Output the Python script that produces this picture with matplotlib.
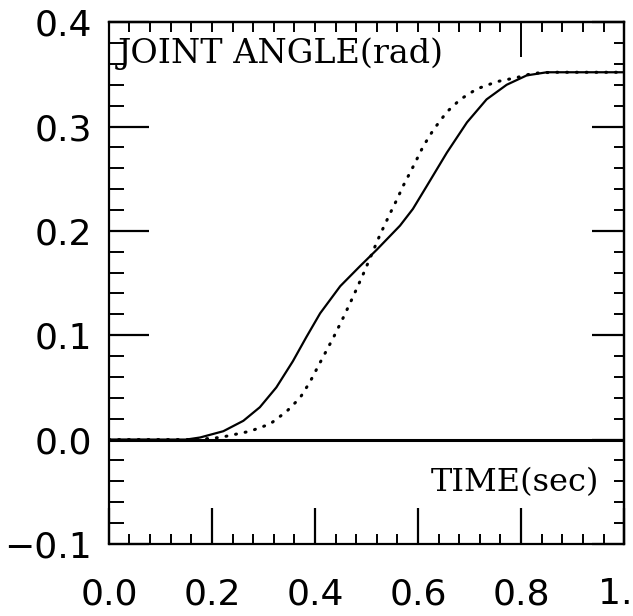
import numpy as np
from matplotlib import pyplot as plt
from matplotlib import transforms
from matplotlib.ticker import MultipleLocator, FixedLocator

# time (sec) and joint angle (rad)
t_solid = [0.0, 0.15, 0.177, 0.222, 0.261, 0.293, 0.325, 0.357, 0.383, 0.410, 0.449,
           0.487, 0.520, 0.565, 0.590, 0.617, 0.656, 0.695, 0.733, 0.772, 0.811,
           0.85, 0.90, 1.0]
q_solid = [0.0, 0.0, 0.002, 0.008, 0.018, 0.031, 0.050, 0.075, 0.098, 0.121, 0.147,
           0.166, 0.182, 0.205, 0.221, 0.243, 0.275, 0.304, 0.326, 0.340, 0.349,
           0.352, 0.352, 0.352]

t_dot = [0.0, 0.17, 0.216, 0.274, 0.313, 0.345, 0.371, 0.390, 0.408, 0.436, 0.455,
         0.474, 0.494, 0.507, 0.526, 0.546, 0.559, 0.571, 0.591, 0.610, 0.630,
         0.656, 0.682, 0.714, 0.753, 0.792, 0.823, 0.86, 1.0]
q_dot = [0.0, 0.0, 0.002, 0.008, 0.015, 0.027, 0.040, 0.055, 0.072, 0.098, 0.117,
         0.137, 0.159, 0.174, 0.196, 0.217, 0.230, 0.243, 0.262, 0.281, 0.297,
         0.314, 0.326, 0.336, 0.343, 0.347, 0.351, 0.352, 0.352]

x_ticks = [0.0, 0.2, 0.4, 0.6, 0.8, 1.0]
x_labels = ['0.0', '0.2', '0.4', '0.6', '0.8', '1.']
y_ticks = [-0.1, 0.0, 0.1, 0.2, 0.3, 0.4]
y_labels = ['\u22120.1', '0.0', '0.1', '0.2', '0.3', '0.4']

fig = plt.figure(figsize=(6.33, 6.16), dpi=100)
ax = fig.add_axes([0.172, 0.117, 0.814, 0.847])

ax.plot(t_solid, q_solid, color='black', lw=1.6, solid_joinstyle='round')
ax.plot(t_dot, q_dot, color='black', lw=2.2, linestyle=(0, (0.3, 2.9)),
        dash_capstyle='round')
ax.axhline(0, color='black', lw=2.2)

ax.set_xlim(0, 1)
ax.set_ylim(-0.1, 0.4)
for s in ax.spines.values():
    s.set_linewidth(1.6)

ax.set_xticks(x_ticks)
ax.set_xticklabels(x_labels)
ax.set_yticks(y_ticks)
ax.set_yticklabels(y_labels)
ax.xaxis.set_minor_locator(MultipleLocator(0.04))
ax.yaxis.set_minor_locator(MultipleLocator(0.02))
ax.tick_params(axis='both', which='major', direction='in', labelsize=26, width=1.6)
ax.tick_params(axis='both', which='minor', direction='in', width=1.4)
ax.tick_params(axis='x', which='major', length=26, pad=24)
ax.tick_params(axis='x', which='minor', length=7.5)
ax.tick_params(axis='y', which='major', length=29, pad=12)
ax.tick_params(axis='y', which='minor', length=10.5)

# last x label is clipped to "1." in the original, keep it inside the figure
last = ax.get_xticklabels()[-1]
last.set_ha('right')
last.set_transform(last.get_transform() +
                   transforms.ScaledTranslation(6 / 72, 0, fig.dpi_scale_trans))

# top: only minor ticks plus one long one at 0.8
top = ax.secondary_xaxis('top')
top.xaxis.set_major_locator(FixedLocator([0.8]))
top.xaxis.set_minor_locator(MultipleLocator(0.04))
top.tick_params(which='major', direction='in', length=25, width=1.4, labeltop=False)
top.tick_params(which='minor', direction='in', length=7, width=1.4)
top.spines['top'].set_linewidth(1.6)

right = ax.secondary_yaxis('right')
right.yaxis.set_major_locator(FixedLocator(y_ticks))
right.yaxis.set_minor_locator(MultipleLocator(0.02))
right.tick_params(which='major', direction='in', length=23, width=1.6, labelright=False)
right.tick_params(which='minor', direction='in', length=7.5, width=1.4)
right.spines['right'].set_linewidth(1.6)

ax.text(0.017, 0.361, 'JOINT ANGLE(rad)', fontsize=24, family='DejaVu Serif',
        ha='left', va='baseline')
ax.text(0.952, -0.049, 'TIME(sec)', fontsize=23, family='DejaVu Serif',
        ha='right', va='baseline')

fig.savefig('out.png', dpi=100)
